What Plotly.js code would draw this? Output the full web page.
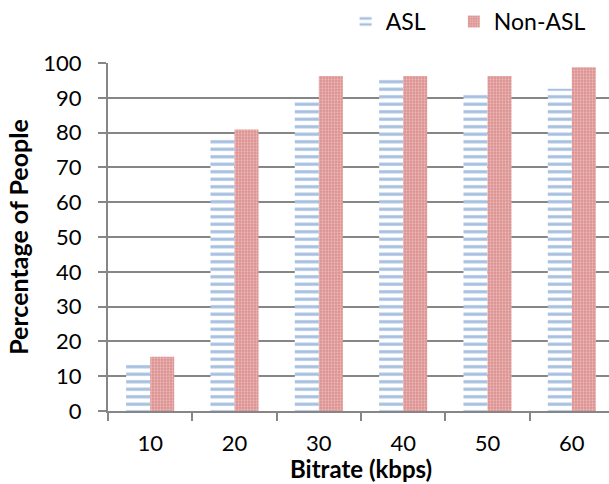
<!DOCTYPE html>
<html>
<head>
<meta charset="utf-8">
<script src="https://cdn.plot.ly/plotly-3.0.1.min.js"></script>
<style>
html,body{margin:0;padding:0;overflow:hidden;background:#fff;}
#chart{width:615px;height:484px;}
</style>
</head>
<body>
<div id="chart"></div>
<script>
const categories = ["10", "20", "30", "40", "50", "60"];
const aslValues = [13.5, 78.5, 89.3, 96.0, 91.3, 92.6];
const nonAslValues = [15.6, 80.9, 96.3, 96.3, 96.3, 98.8];
const seriesNames = ["ASL", "Non-ASL"];
const xTitle = "Bitrate (kbps)";
const yTitle = "Percentage of People";

const font = "Lato, 'Open Sans', sans-serif";

const traces = [
  {
    type: "bar",
    name: seriesNames[0],
    legend: "legend",
    x: categories,
    y: aslValues,
    marker: {
      color: "#ffffff",
      line: {width: 0},
      pattern: {shape: "-", fgcolor: "#4F82C2", bgcolor: "#ffffff", size: 7.5, solidity: 0.42, fillmode: "overlay"}
    },
    hoverinfo: "x+y"
  },
  {
    type: "bar",
    name: seriesNames[1],
    legend: "legend2",
    x: categories,
    y: nonAslValues,
    marker: {
      color: "#DB8E8D",
      line: {width: 0},
      pattern: {shape: ".", fgcolor: "#F7E0E0", bgcolor: "#DB8E8D", size: 3, solidity: 0.45, fillmode: "overlay"}
    },
    hoverinfo: "x+y"
  }
];

const legendBase = {
  orientation: "h",
  xref: "container", yref: "container",
  y: 1.0,
  xanchor: "left", yanchor: "top",
  font: {family: font, size: 23},
  bgcolor: "rgba(0,0,0,0)"
};

const layout = {
  width: 615,
  height: 484,
  margin: {l: 108, r: 1, t: 63, b: 73, pad: 0},
  paper_bgcolor: "#ffffff",
  plot_bgcolor: "#ffffff",
  font: {family: font, size: 22, color: "#000000"},
  barmode: "group",
  bargap: 0.43,
  bargroupgap: 0,
  showlegend: true,
  legend: Object.assign({}, legendBase, {x: 0.562}),
  legend2: Object.assign({}, legendBase, {x: 0.738}),
  annotations: [{
    text: xTitle,
    xref: "paper", yref: "paper",
    x: 0.5, y: -0.166,
    xanchor: "center", yanchor: "middle",
    showarrow: false,
    font: {family: font, size: 24, weight: "bold", color: "#000000"}
  }],
  xaxis: {
    type: "category",
    showline: true, linecolor: "#868686", linewidth: 2,
    ticks: "outside", tickson: "boundaries", ticklen: 8, tickwidth: 2, tickcolor: "#868686",
    showgrid: false,
    tickfont: {family: font, size: 22},
    ticklabelstandoff: 12
  },
  yaxis: {
    range: [0, 100],
    dtick: 10,
    title: {text: yTitle, font: {family: font, size: 25, weight: "bold"}, standoff: 8},
    showline: true, linecolor: "#868686", linewidth: 2,
    ticks: "outside", ticklen: 8, tickwidth: 2, tickcolor: "#868686",
    showgrid: true, gridcolor: "#868686", gridwidth: 2,
    zeroline: false,
    tickfont: {family: font, size: 22},
    ticklabelstandoff: 12
  }
};

Plotly.newPlot("chart", traces, layout, {displayModeBar: false, staticPlot: true});
</script>
</body>
</html>
